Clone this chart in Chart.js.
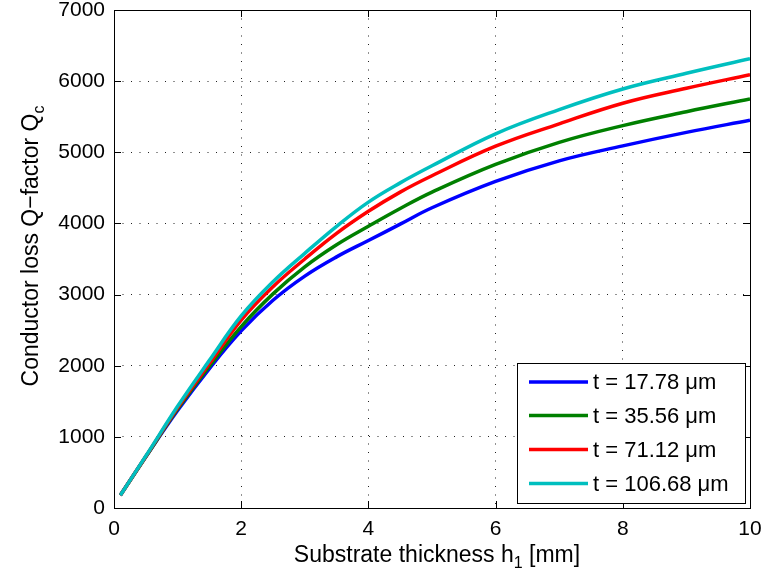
<!DOCTYPE html>
<html>
<head>
<meta charset="utf-8">
<script src="https://cdn.jsdelivr.net/npm/chart.js@4"></script>
<style>
  html, body { margin: 0; padding: 0; background: #fff; }
  #wrap { width: 764px; height: 578px; }
</style>
</head>
<body>
<div id="wrap"><canvas id="qcChart" width="764" height="578"></canvas></div>
<script>
// substrate thickness h1 [mm]
const thickness = [0.1, 0.5, 1, 1.5, 2, 2.5, 3, 3.5, 4, 4.5, 5, 6, 7, 8, 9, 10];
// conductor loss Q-factor for each conductor thickness t
const qc17 = [180, 720, 1370, 1960, 2490, 2920, 3260, 3530, 3760, 3990, 4220, 4590, 4880, 5090, 5280, 5450];
const qc35 = [180, 720, 1390, 1990, 2550, 3010, 3390, 3700, 3960, 4210, 4440, 4830, 5140, 5375, 5570, 5750];
const qc71 = [180, 725, 1410, 2030, 2640, 3110, 3500, 3860, 4170, 4440, 4670, 5085, 5400, 5690, 5900, 6090];
const qc106 = [180, 730, 1430, 2075, 2700, 3180, 3580, 3960, 4300, 4570, 4810, 5260, 5600, 5890, 6110, 6315];

const seriesLabels = ['t = 17.78 \u03bcm', 't = 35.56 \u03bcm', 't = 71.12 \u03bcm', 't = 106.68 \u03bcm'];
const seriesColors = ['#0000ff', '#008000', '#ff0000', '#00bfbf'];
const xTicks = [0, 2, 4, 6, 8, 10];
const yTicks = [0, 1000, 2000, 3000, 4000, 5000, 6000, 7000];

const FONT = '"Liberation Sans", Arial, Helvetica, sans-serif';

function toPoints(ys) {
  return thickness.map((x, i) => ({ x: x, y: ys[i] }));
}

// box + inward tick marks, like a matlab axes
const boxTicks = {
  id: 'boxTicks',
  afterDatasetsDraw(chart) {
    const { ctx, chartArea: a, scales: { x, y } } = chart;
    ctx.save();
    ctx.strokeStyle = '#000';
    ctx.lineWidth = 1;
    ctx.beginPath();
    xTicks.forEach(v => {
      const px = Math.round(x.getPixelForValue(v)) + 0.5;
      ctx.moveTo(px, a.bottom); ctx.lineTo(px, a.bottom - 7);
      ctx.moveTo(px, a.top); ctx.lineTo(px, a.top + 7);
    });
    yTicks.forEach(v => {
      const py = Math.round(y.getPixelForValue(v)) + 0.5;
      ctx.moveTo(a.left, py); ctx.lineTo(a.left + 7, py);
      ctx.moveTo(a.right, py); ctx.lineTo(a.right - 7, py);
    });
    ctx.stroke();
    ctx.strokeRect(Math.round(a.left) + 0.5, Math.round(a.top) + 0.5, Math.round(a.width), Math.round(a.height));
    ctx.restore();
  }
};

// legend box in the lower right corner
const boxLegend = {
  id: 'boxLegend',
  afterDraw(chart) {
    const ctx = chart.ctx;
    const left = 517, top = 363, w = 228, h = 140;
    const rows = [382, 415.5, 449.5, 483.5];
    ctx.save();
    ctx.fillStyle = '#fff';
    ctx.fillRect(left, top, w, h);
    ctx.strokeStyle = '#000';
    ctx.lineWidth = 1;
    ctx.strokeRect(left + 0.5, top + 0.5, w, h);
    ctx.font = '22px ' + FONT;
    ctx.textBaseline = 'middle';
    ctx.textAlign = 'left';
    chart.data.datasets.forEach((ds, i) => {
      ctx.strokeStyle = ds.borderColor;
      ctx.lineWidth = 3.5;
      ctx.beginPath();
      ctx.moveTo(529, rows[i]);
      ctx.lineTo(588, rows[i]);
      ctx.stroke();
      ctx.fillStyle = '#000';
      ctx.fillText(ds.label, 593, rows[i] + 1);
    });
    ctx.restore();
  }
};

// axis titles with subscripts
function drawSub(ctx, x, y, main, sub, after) {
  ctx.font = '23px ' + FONT;
  const w1 = ctx.measureText(main).width;
  ctx.font = '16px ' + FONT;
  const w2 = ctx.measureText(sub).width;
  ctx.font = '23px ' + FONT;
  const w3 = after ? ctx.measureText(after).width : 0;
  let start = x - (w1 + w2 + w3) / 2;
  ctx.fillText(main, start, y);
  ctx.font = '16px ' + FONT;
  ctx.fillText(sub, start + w1, y + 6);
  if (after) {
    ctx.font = '23px ' + FONT;
    ctx.fillText(after, start + w1 + w2, y);
  }
}

const axisTitles = {
  id: 'axisTitles',
  afterDraw(chart) {
    const ctx = chart.ctx;
    ctx.save();
    ctx.fillStyle = '#000';
    ctx.textAlign = 'left';
    ctx.textBaseline = 'alphabetic';
    drawSub(ctx, 437, 562, 'Substrate thickness h', '1', ' [mm]');
    ctx.translate(38, 246);
    ctx.rotate(-Math.PI / 2);
    drawSub(ctx, 0, 0, 'Conductor loss Q\u2212factor Q', 'c', '');
    ctx.restore();
  }
};

const ctx = document.getElementById('qcChart').getContext('2d');
const chart = new Chart(ctx, {
  type: 'line',
  data: {
    datasets: [
      { label: seriesLabels[0], data: toPoints(qc17), borderColor: seriesColors[0], order: 3 },
      { label: seriesLabels[1], data: toPoints(qc35), borderColor: seriesColors[1], order: 2 },
      { label: seriesLabels[2], data: toPoints(qc71), borderColor: seriesColors[2], order: 1 },
      { label: seriesLabels[3], data: toPoints(qc106), borderColor: seriesColors[3], order: 0 }
    ]
  },
  options: {
    responsive: false,
    animation: false,
    layout: { padding: { left: 0, top: 10, right: 14, bottom: 0 } },
    elements: {
      point: { radius: 0 },
      line: { borderWidth: 3.5, tension: 0.4, fill: false }
    },
    plugins: {
      legend: { display: false },
      tooltip: { enabled: false }
    },
    scales: {
      x: {
        type: 'linear',
        min: 0,
        max: 10,
        afterFit: s => { s.height = 70; s.paddingLeft = 0; s.paddingRight = 0; },
        afterBuildTicks: s => { s.ticks = xTicks.map(v => ({ value: v })); },
        border: { display: false, dash: [1, 7.5] },
        grid: { color: '#222', drawTicks: false },
        ticks: { color: '#000', font: { family: FONT, size: 21 }, padding: 9, maxRotation: 0,
          callback: v => String(v) }
      },
      y: {
        type: 'linear',
        min: 0,
        max: 7000,
        afterFit: s => { s.width = 114; s.paddingTop = 0; s.paddingBottom = 0; },
        afterBuildTicks: s => { s.ticks = yTicks.map(v => ({ value: v })); },
        border: { display: false, dash: [1, 7.5] },
        grid: { color: '#222', drawTicks: false },
        ticks: { color: '#000', font: { family: FONT, size: 21 }, padding: 9,
          callback: v => String(v) }
      }
    }
  },
  plugins: [boxTicks, boxLegend, axisTitles]
});
</script>
</body>
</html>
